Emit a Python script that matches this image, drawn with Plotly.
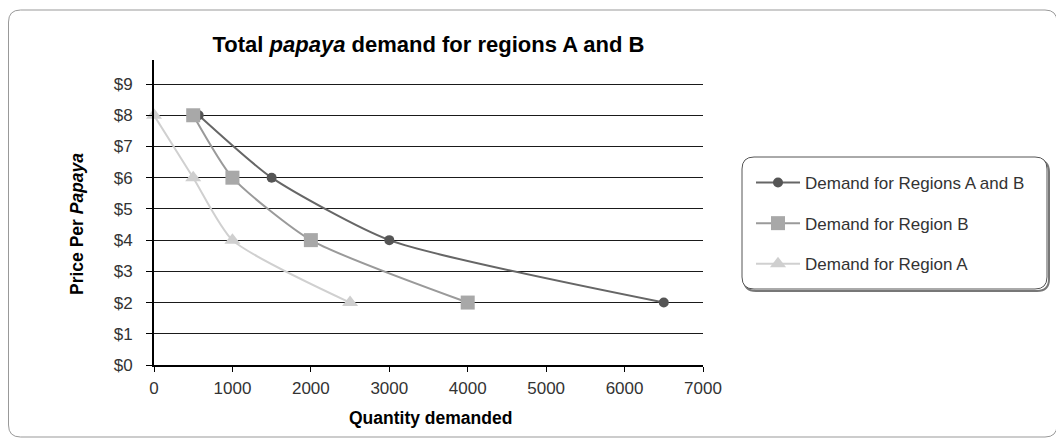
import plotly.graph_objects as go

# ---- data ----
qty_total = [570, 1500, 3000, 6500]
price_total = [8, 6, 4, 2]
qty_b = [500, 1000, 2000, 4000]
price_b = [8, 6, 4, 2]
qty_a = [0, 500, 1000, 2500]
price_a = [8, 6, 4, 2]
y_ticks = [0, 1, 2, 3, 4, 5, 6, 7, 8, 9]
y_labels = ["$0", "$1", "$2", "$3", "$4", "$5", "$6", "$7", "$8", "$9"]
x_ticks = [0, 1000, 2000, 3000, 4000, 5000, 6000, 7000]

OFF = 8  # page body margin
W, H = 1064 - OFF, 444 - OFF
# plot area in page pixels
L, R, T, B = 154, 703, 60, 365

def px(x):
    return (x - L) / (R - L)

def py(y):
    return (B - y) / (B - T)

def rrect(x0, y0, x1, y1, r):
    X0, X1 = px(x0), px(x1)
    Y0, Y1 = py(y0), py(y1)
    rx = r / (R - L)
    ry = r / (B - T)
    return (f"M {X0+rx},{Y0} L {X1-rx},{Y0} Q {X1},{Y0} {X1},{Y0-ry} "
            f"L {X1},{Y1+ry} Q {X1},{Y1} {X1-rx},{Y1} L {X0+rx},{Y1} "
            f"Q {X0},{Y1} {X0},{Y1+ry} L {X0},{Y0-ry} Q {X0},{Y0} {X0+rx},{Y0} Z")

font = "Liberation Sans, Arial, sans-serif"

fig = go.Figure()
fig.add_trace(go.Scatter(
    x=qty_total, y=price_total, name="Demand for Regions A and B",
    mode="lines+markers", line=dict(color="#666666", width=2, shape="spline", smoothing=0.6),
    marker=dict(symbol="circle", size=10, color="#555555"), legendgroup="t", cliponaxis=False))
fig.add_trace(go.Scatter(
    x=qty_b, y=price_b, name="Demand for Region B",
    mode="lines+markers", line=dict(color="#9a9a9a", width=2, shape="spline", smoothing=0.6),
    marker=dict(symbol="square", size=14, color="#a8a8a8"), legendgroup="b", cliponaxis=False))
fig.add_trace(go.Scatter(
    x=qty_a, y=price_a, name="Demand for Region A",
    mode="lines+markers", line=dict(color="#d0d0d0", width=2, shape="spline", smoothing=0.6),
    marker=dict(symbol="triangle-up", size=14, color="#cfcfcf"), legendgroup="a", cliponaxis=False))

shapes = [
    dict(type="path", xref="paper", yref="paper", path=rrect(8.5, 10, 1057, 437, 12),
         line=dict(color="#999999", width=1), fillcolor="rgba(0,0,0,0)", layer="below"),
    dict(type="path", xref="paper", yref="paper", path=rrect(744, 160, 1049, 291, 12),
         line=dict(color="#777777", width=2), fillcolor="rgba(0,0,0,0)", layer="below"),
    dict(type="path", xref="paper", yref="paper", path=rrect(742, 157, 1047, 289, 12),
         line=dict(color="#555555", width=1), fillcolor="white", layer="below"),
]

annotations = [
    dict(text="<b>Price Per <i>Papaya</i></b>", xref="paper", yref="paper",
         x=px(77), y=py(224), xanchor="center", yanchor="middle", textangle=-90,
         showarrow=False, font=dict(size=17.5, color="#000000")),
    dict(text="<b>Quantity demanded</b>", xref="paper", yref="paper",
         x=px(430), y=py(418), xanchor="center", yanchor="middle",
         showarrow=False, font=dict(size=17.5, color="#000000")),
]

fig.update_layout(
    width=W, height=H,
    margin=dict(l=L - OFF, r=W - (R - OFF), t=T - OFF, b=H - (B - OFF)),
    paper_bgcolor="white", plot_bgcolor="white",
    font=dict(family=font, size=17, color="#333333"),
    title=dict(text="<b>Total <i>papaya</i> demand for regions A and B</b>",
               x=0.5, xref="paper", xanchor="center", y=1 - (44 - OFF) / H, yanchor="middle",
               font=dict(size=22, color="#000000")),
    xaxis=dict(range=[0, 7000], tickvals=x_ticks, showgrid=False, zeroline=False,
               showline=True, linecolor="#000000", linewidth=2,
               ticks="outside", ticklen=5, tickcolor="#000000", tickwidth=1,
               ticklabelstandoff=2, tickfont=dict(size=17, color="#333333")),
    yaxis=dict(range=[0, 9.77], tickvals=y_ticks, ticktext=y_labels,
               showgrid=True, gridcolor="#1a1a1a", gridwidth=1, zeroline=False,
               showline=True, linecolor="#000000", linewidth=2,
               ticks="outside", ticklen=6, tickcolor="#000000", tickwidth=1,
               ticklabelstandoff=10, tickfont=dict(size=17, color="#333333")),
    legend=dict(x=px(751), y=py(165), xanchor="left", yanchor="top",
                bgcolor="rgba(0,0,0,0)", borderwidth=0, tracegroupgap=15.5,
                font=dict(size=17, color="#333333"), itemwidth=44),
    shapes=shapes,
    annotations=annotations,
    showlegend=True,
)

fig.write_html("out.html")
